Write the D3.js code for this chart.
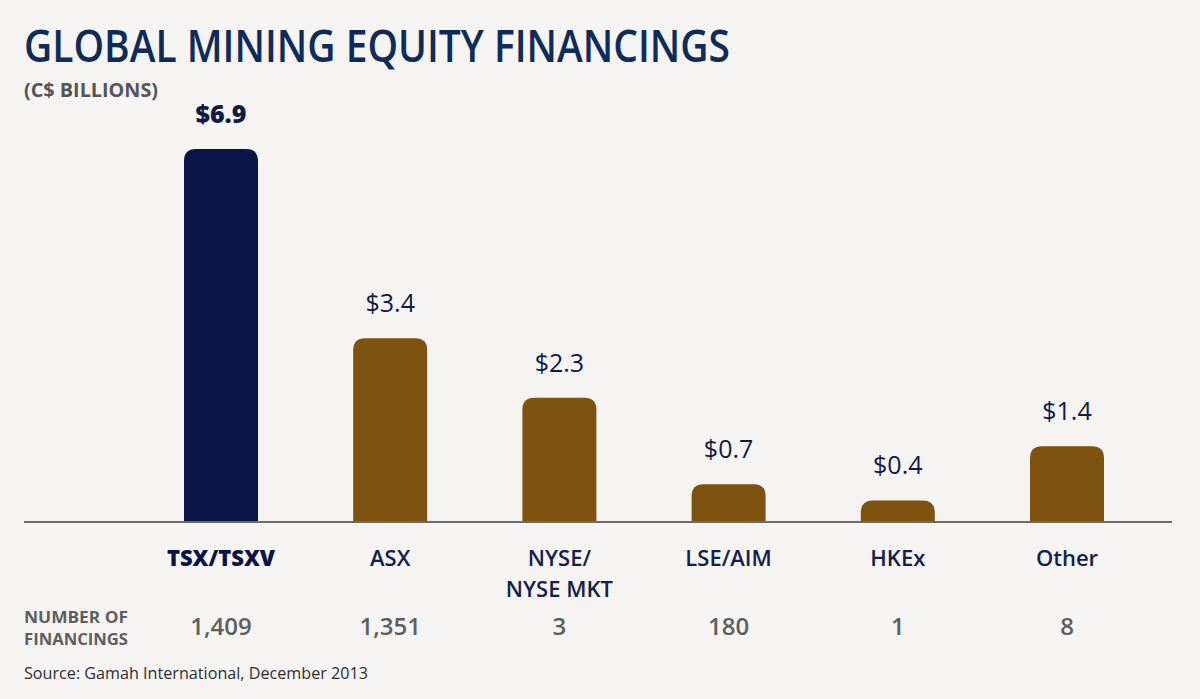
<!DOCTYPE html>
<html>
<head>
<script src="https://d3js.org/d3.v7.min.js"></script>
<style>
body { margin: 0; background: #f5f4f2; }
#chart svg { display: block; }
text { font-family: "Open Sans", "Noto Sans", sans-serif; }
</style>
</head>
<body>
<div id="chart"></div>
<script type="text/javascript">
// data
var exchanges = ["TSX/TSXV", "ASX", "NYSE/\nNYSE MKT", "LSE/AIM", "HKEx", "Other"];
var amounts = [6.9, 3.4, 2.3, 0.7, 0.4, 1.4];
var amountLabels = ["$6.9", "$3.4", "$2.3", "$0.7", "$0.4", "$1.4"];
var financings = ["1,409", "1,351", "3", "180", "1", "8"];

var width = 1200,
    height = 699,
    baseY = 522,
    barWidth = 74,
    radius = 12,
    navy = "#0b1446",
    brown = "#7e520f";

var svg = d3.select("#chart")
    .append("svg")
    .attr("width", width)
    .attr("height", height);

svg.append("rect")
    .attr("width", width)
    .attr("height", height)
    .attr("fill", "#f5f4f2");

var x = d3.scalePoint().domain(exchanges).range([221, 1067]);
var y = d3.scaleLinear().domain([0, 6.9]).range([baseY, 149]);

// title block
svg.append("text")
    .attr("x", 24).attr("y", 62)
    .attr("fill", "#0f2c58")
    .attr("font-size", 46)
    .attr("font-weight", 600)
    .attr("textLength", 706)
    .attr("lengthAdjust", "spacingAndGlyphs")
    .text("GLOBAL MINING EQUITY FINANCINGS");

svg.append("text")
    .attr("x", 24).attr("y", 97)
    .attr("fill", "#555")
    .attr("font-size", 20)
    .attr("font-weight", 700)
    .attr("textLength", 134)
    .attr("lengthAdjust", "spacingAndGlyphs")
    .text("(C$ BILLIONS)");

// bars with rounded tops
var topRounded = function(cx, yTop, w, r) {
    var x0 = cx - w / 2, x1 = cx + w / 2;
    return "M" + x0 + "," + baseY +
        "V" + (yTop + r) +
        "Q" + x0 + "," + yTop + " " + (x0 + r) + "," + yTop +
        "H" + (x1 - r) +
        "Q" + x1 + "," + yTop + " " + x1 + "," + (yTop + r) +
        "V" + baseY + "Z";
};

var data = exchanges.map(function(d, i) {
    return { name: d, value: amounts[i], label: amountLabels[i], count: financings[i], i: i };
});

svg.selectAll(".bar")
    .data(data)
    .enter().append("path")
    .attr("class", "bar")
    .attr("fill", function(d) { return d.i === 0 ? navy : brown; })
    .attr("d", function(d) { return topRounded(x(d.name), y(d.value), barWidth, radius); });

svg.selectAll(".val")
    .data(data)
    .enter().append("text")
    .attr("class", "val")
    .attr("x", function(d) { return x(d.name); })
    .attr("y", function(d) { return y(d.value) - 26; })
    .attr("text-anchor", "middle")
    .attr("font-size", 25)
    .attr("font-weight", function(d) { return d.i === 0 ? 800 : 500; })
    .attr("fill", "#111a44")
    .text(function(d) { return d.label; });

// baseline
svg.append("line")
    .attr("x1", 24).attr("x2", 1172)
    .attr("y1", baseY).attr("y2", baseY)
    .attr("stroke", "#6b6b6b")
    .attr("stroke-width", 2);

// category labels
var cats = svg.selectAll(".cat")
    .data(data)
    .enter().append("text")
    .attr("class", "cat")
    .attr("text-anchor", "middle")
    .attr("font-size", 22)
    .attr("font-weight", function(d) { return d.i === 0 ? 800 : 600; })
    .attr("fill", function(d) { return d.i === 0 ? navy : "#14224a"; });

cats.selectAll("tspan")
    .data(function(d) {
        return d.name.split("\n").map(function(s) { return { s: s, cx: x(d.name) }; });
    })
    .enter().append("tspan")
    .attr("x", function(t) { return t.cx; })
    .attr("y", function(t, j) { return 566 + j * 31; })
    .text(function(t) { return t.s; });

// number of financings row
var rowHead = svg.append("text")
    .attr("font-size", 16).attr("font-weight", 700).attr("fill", "#5e5e5e");
rowHead.append("tspan").attr("x", 24).attr("y", 623)
    .attr("textLength", 104).attr("lengthAdjust", "spacingAndGlyphs")
    .text("NUMBER OF");
rowHead.append("tspan").attr("x", 24).attr("y", 645)
    .attr("textLength", 104).attr("lengthAdjust", "spacingAndGlyphs")
    .text("FINANCINGS");

svg.selectAll(".count")
    .data(data)
    .enter().append("text")
    .attr("class", "count")
    .attr("x", function(d) { return x(d.name); })
    .attr("y", 635)
    .attr("text-anchor", "middle")
    .attr("font-size", 24)
    .attr("font-weight", 600)
    .attr("fill", "#5e5e5e")
    .text(function(d) { return d.count; });

svg.append("text")
    .attr("x", 24).attr("y", 679)
    .attr("font-size", 16)
    .attr("fill", "#2e2e2e")
    .attr("textLength", 344)
    .attr("lengthAdjust", "spacingAndGlyphs")
    .text("Source:  Gamah International, December 2013");
</script>
</body>
</html>
